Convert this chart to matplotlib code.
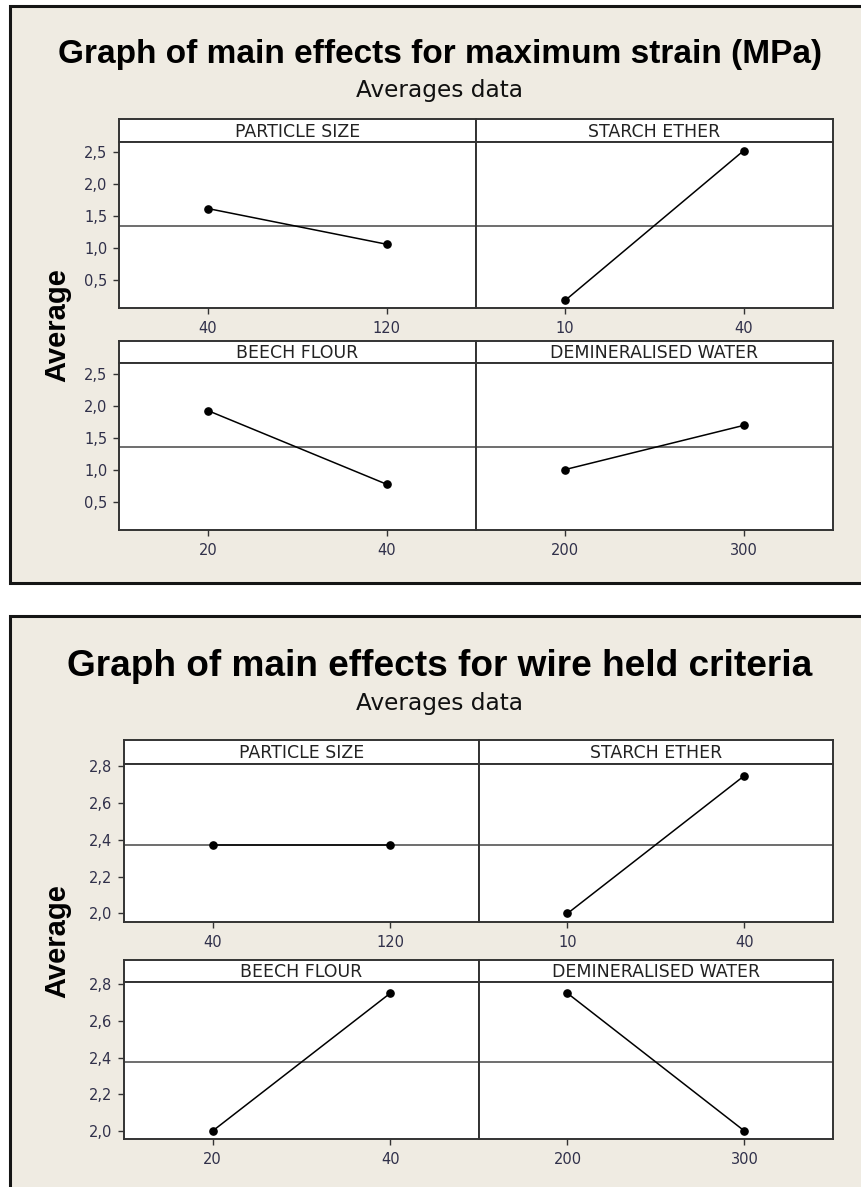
import matplotlib
matplotlib.use('Agg')
import matplotlib.pyplot as plt
from matplotlib.patches import Rectangle
import numpy as np

# ---------------- data ----------------
factors = ['PARTICLE SIZE', 'STARCH ETHER', 'BEECH FLOUR', 'DEMINERALISED WATER']
levels = [['40', '120'], ['10', '40'], ['20', '40'], ['200', '300']]

strain_means = [[1.62, 1.06],   # particle size
                [0.18, 2.53],   # starch ether
                [1.92, 0.77],   # beech flour
                [1.00, 1.69]]   # demineralised water
strain_yticks = [0.5, 1.0, 1.5, 2.0, 2.5]

wire_means = [[2.375, 2.375],
              [2.00, 2.75],
              [2.00, 2.75],
              [2.75, 2.00]]
wire_yticks = [2.0, 2.2, 2.4, 2.6, 2.8]

title_strain = 'Graph of main effects for maximum strain (MPa)'
title_wire = 'Graph of main effects for wire held criteria'
subtitle = 'Averages data'
ylabel = 'Average'

# ---------------- layout helpers ----------------
W, H = 862, 1187
BG = '#efebe2'
FRAME = '#333333'
TICKC = '#30304a'

fig = plt.figure(figsize=(W / 100, H / 100), dpi=100)
fig.patch.set_facecolor('white')


def fx(x):
    return x / W


def fy(y):
    return 1 - y / H


def add_ax(x0, y0, x1, y1):
    return fig.add_axes([fx(x0), fy(y1), fx(x1) - fx(x0), fy(y0) - fy(y1)])


renderer = fig.canvas.get_renderer()


def fit_text(x, y, s, width, **kw):
    t = fig.text(fx(x), fy(y), s, ha='center', va='baseline', **kw)
    w = t.get_window_extent(renderer).width
    t.set_fontsize(t.get_fontsize() * width / w)
    return t


def fmt(v):
    return f'{v:.1f}'.replace('.', ',')


def draw_chart(top, bottom, cols, rows, means, yticks, ylim, title, title_w,
               title_base, sub_base, ylabel_y):
    # panel background
    fig.add_artist(Rectangle((fx(10.5), fy(bottom)), fx(900) - fx(10.5),
                             fy(top) - fy(bottom), transform=fig.transFigure,
                             facecolor=BG, edgecolor='#151515', lw=2.2, zorder=-5))
    fit_text(440, title_base, title, title_w, family='Liberation Sans',
             fontweight='bold', fontsize=24, color='black')
    fit_text(440, sub_base, subtitle, 167, family='DejaVu Sans',
             fontsize=14, color='#111111')
    fig.text(fx(57), fy(ylabel_y), ylabel, rotation=90, ha='center', va='center',
             family='Liberation Sans', fontweight='bold', fontsize=21, color='black')

    allv = np.array(means).ravel()
    grand = allv.mean()
    k = 0
    for r, (s0, s1, d1) in enumerate(rows):
        for c, (x0, x1) in enumerate(cols):
            # strip
            sax = add_ax(x0, s0, x1, s1)
            sax.set_facecolor('white')
            sax.set_xticks([])
            sax.set_yticks([])
            for sp in sax.spines.values():
                sp.set_color(FRAME)
                sp.set_linewidth(1.4)
            sax.text(0.5, 0.45, factors[k], ha='center', va='center',
                     transform=sax.transAxes, fontsize=12.5, family='DejaVu Sans',
                     color='#222222')
            # data
            ax = add_ax(x0, s1, x1, d1)
            ax.set_facecolor('white')
            ax.axhline(grand, color='#555555', lw=1.2, zorder=1)
            ax.plot([0, 1], means[k], color='black', lw=1.1, marker='o',
                    markersize=5.2, zorder=3)
            ax.set_xlim(-0.5, 1.5)
            ax.set_ylim(*ylim)
            ax.set_xticks([0, 1])
            ax.set_xticklabels(levels[k])
            ax.set_yticks(yticks)
            if c == 0:
                ax.set_yticklabels([fmt(v) for v in yticks])
                ax.tick_params(axis='y', length=4, width=1, color=FRAME, pad=4,
                               labelsize=10.5, labelcolor=TICKC)
            else:
                ax.tick_params(axis='y', left=False, labelleft=False)
            ax.tick_params(axis='x', length=4, width=1, color=FRAME, pad=5.5,
                           labelsize=10.5, labelcolor=TICKC)
            for sp in ax.spines.values():
                sp.set_color(FRAME)
                sp.set_linewidth(1.4)
            k += 1


# top chart: maximum strain
draw_chart(top=6.5, bottom=582.5,
           cols=[(118.7, 476), (476, 833)],
           rows=[(119.3, 142.3, 308.3), (340.7, 363.3, 530)],
           means=strain_means, yticks=strain_yticks, ylim=(0.055, 2.66),
           title=title_strain, title_w=766, title_base=63.3, sub_base=96.7,
           ylabel_y=325)

# bottom chart: wire held criteria
draw_chart(top=615.5, bottom=1250,
           cols=[(123.7, 479), (479, 833)],
           rows=[(740, 764, 921.7), (960, 981.7, 1139.3)],
           means=wire_means, yticks=wire_yticks, ylim=(1.955, 2.813),
           title=title_wire, title_w=746, title_base=675.7, sub_base=710,
           ylabel_y=941)

fig.savefig('out.png', dpi=100, facecolor='white')
